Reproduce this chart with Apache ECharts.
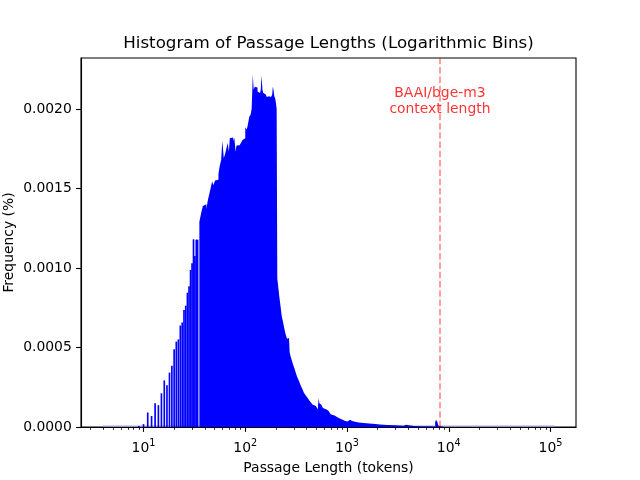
<!DOCTYPE html>
<html><head><meta charset="utf-8">
<script src="https://cdn.jsdelivr.net/npm/echarts@6/dist/echarts.min.js"></script>
<style>html,body{margin:0;padding:0;background:#fff}#c{width:640px;height:480px}</style>
</head><body><div id="c"></div>
<script>
// ---- data ----
const spikeLengths = [9,10,11,12,13,14,15,16,17,18,19,20,21,22,23,24,25,26,27,28,29,30,31,32,33,34];
const spikeFreq = [0.000007,0.000018,0.000091,0.000069,0.000149,0.000137,0.000212,0.000293,0.000262,0.000342,
  0.000385,0.000489,0.000537,0.000551,0.000638,0.000657,0.000736,0.000763,0.000844,0.000885,
  0.000987,0.001030,0.001180,0.001075,0.001178,0.001178];
// continuous part: bin left edges (one extra closing edge) and frequency of each bin
const contEdges = [35.4,37,38.3,40,41.5,43,44.5,46,47.3,48.5,50.5,52.5,54.5,56,58,59.5,61.5,63.5,65.5,67.3,
  69,70.5,73,76,78,80.5,82,85,88,91.5,94,97,100,103.5,106,109.5,113,115.5,117,118.5,
  121,124,128,132,136,139.5,142,144.5,147.5,150.5,155,159,163,167,171,175,179,184,186.5,189.5,
  193,197,201,203.5,206.5,211,216,222,228,235,242,249,257,265,269,273,280,288,296,304,
  314,324,337,350,363,377,392,407,423,440,457,475,495,515,527,535,545,560,580,605,
  630,660,690,720,755,790,830,870,915,960,1010,1070,1120,1200,1300,1450,1650,1900,2100,2500,
  3000,3600,3800,4500,5500,6500,7350,7500,7750,7900,8100,9000];
const contFreq = [0.00129,0.00135,0.00139,0.00140,0.00137,0.00143,0.00147,0.00151,0.001545,0.00152,
  0.00155,0.001555,0.00159,0.00164,0.00168,0.00180,0.00169,0.00172,0.001755,0.001785,
  0.00173,0.001815,0.00182,0.00180,0.001818,0.00173,0.00177,0.001772,0.00178,0.00179,
  0.001805,0.001815,0.001885,0.00187,0.00190,0.00195,0.001965,0.00200,0.00210,0.002214,
  0.00212,0.00214,0.002135,0.00211,0.00210,0.00209,0.00212,0.00221,0.00212,0.00210,
  0.00209,0.002085,0.002075,0.00208,0.00207,0.002075,0.00208,0.00209,0.00214,0.00212,
  0.00208,0.002065,0.00203,0.00200,0.00093,0.00088,0.00082,0.00076,0.00070,0.00066,
  0.00062,0.000585,0.000555,0.000545,0.00056,0.00047,0.00044,0.000415,0.00039,0.00037,
  0.00034,0.000315,0.00029,0.000262,0.00024,0.000215,0.00020,0.000185,0.00017,0.000155,
  0.000142,0.000132,0.00012,0.00011,0.00018,0.00015,0.00014,0.00013,0.00012,0.00011,
  0.00010,0.00009,0.00008,0.000072,0.000064,0.000057,0.00005,0.000044,0.000038,0.000034,
  0.000045,0.000038,0.000033,0.000028,0.000025,0.000022,0.000019,0.000016,0.000013,0.000011,
  0.000008,0.000014,0.000006,0.000005,0.000004,0.000003,0.00003,0.000046,0.00003,0.000008,0.000002];
const tokenRange = [4, 110000];
const contextLength = 8192;
const noteText = 'BAAI/bge-m3\ncontext length';
const noteY = 0.00205;
const yTicks = [0, 0.0005, 0.0010, 0.0015, 0.0020];
const xMajorTicks = [10, 100, 1000, 10000, 100000];

// ---- build ----
const xMin = 2.43, xMax = 1.78e5;
const xMinorTicks = [];
for (let d = 1; d <= 100000; d *= 10) for (let k = 2; k <= 9; k++) { const v = k * d; if (v > xMin && v < xMax) xMinorTicks.push(v); }

const binHalf = Math.pow(10, 0.0082);
const spikeData = spikeLengths.map((n, i) => [n / binHalf, n * binHalf, spikeFreq[i]]);
const contData = contEdges.map((e, i) => [e, i < contFreq.length ? contFreq[i] : 0]);

const FONT = 'DejaVu Sans';
const chart = echarts.init(document.getElementById('c'), null, {renderer: 'canvas'});
chart.setOption({
  animation: false,
  backgroundColor: '#ffffff',
  title: {
    text: 'Histogram of Passage Lengths (Logarithmic Bins)',
    left: 328.5, top: 43.5, padding: 0,
    textAlign: 'center', textVerticalAlign: 'middle',
    textStyle: {fontFamily: FONT, fontSize: 16.7, fontWeight: 'normal', color: '#000', lineHeight: 20}
  },
  grid: {left: 81, right: 64, top: 58, bottom: 53, show: true, borderColor: '#000', borderWidth: 1.1,
    backgroundColor: 'transparent', containLabel: false, outerBoundsMode: 'none'},
  xAxis: [{
    type: 'log', logBase: 10, min: xMin, max: xMax, z: 5,
    axisLine: {show: true, lineStyle: {color: '#000', width: 1.1}},
    axisTick: {show: true, length: 4.9, customValues: xMajorTicks, lineStyle: {color: '#000', width: 1.1}},
    minorTick: {show: false},
    splitLine: {show: false},
    axisLabel: {
      show: true, customValues: xMajorTicks, margin: 11,
      formatter: v => '{n|10}{s|' + Math.round(Math.log10(v)) + '}',
      rich: {
        n: {fontFamily: FONT, fontSize: 13.9, color: '#000', lineHeight: 20},
        s: {fontFamily: FONT, fontSize: 9.7, color: '#000', verticalAlign: 'top', lineHeight: 10}
      }
    },
    name: 'Passage Length (tokens)', nameLocation: 'middle', nameGap: 33, nameMoveOverlap: false,
    nameTextStyle: {fontFamily: FONT, fontSize: 13.9, color: '#000', lineHeight: 16}
  }, {
    type: 'log', logBase: 10, min: xMin, max: xMax, position: 'bottom', z: 5,
    axisLine: {show: false},
    axisTick: {show: true, length: 2.8, customValues: xMinorTicks, lineStyle: {color: '#000', width: 0.85}},
    axisLabel: {show: false},
    splitLine: {show: false}
  }],
  yAxis: {
    type: 'value', min: 0, max: 0.00232, z: 5,
    axisLine: {show: true, lineStyle: {color: '#000', width: 1.1}},
    axisTick: {show: true, length: 4.9, customValues: yTicks, lineStyle: {color: '#000', width: 1.1}},
    splitLine: {show: false},
    axisLabel: {customValues: yTicks, formatter: v => v.toFixed(4), margin: 9.2,
      fontFamily: FONT, fontSize: 13.9, color: '#000'},
    name: 'Frequency (%)', nameLocation: 'middle', nameGap: 64, nameMoveOverlap: false,
    nameTextStyle: {fontFamily: FONT, fontSize: 13.9, color: '#000', lineHeight: 16}
  },
  series: [
    { // faint baseline across the whole binned range
      type: 'custom', xAxisIndex: 0, silent: true, z: 1,
      data: [[tokenRange[0], tokenRange[1]]],
      renderItem: (params, api) => {
        const a = api.coord([api.value(0), 0]);
        const b = api.coord([api.value(1), 0]);
        return {type: 'rect', shape: {x: a[0], y: a[1] - 1.6, width: b[0] - a[0], height: 1}, style: {fill: '#a8a8ff'}};
      }
    },
    { // continuous histogram body
      type: 'line', xAxisIndex: 0, step: 'end', symbol: 'none', silent: true, z: 2,
      data: contData,
      lineStyle: {width: 0, opacity: 0},
      areaStyle: {color: '#0000ff', opacity: 1, origin: 'start'}
    },
    { // isolated integer-length bars
      type: 'custom', xAxisIndex: 0, silent: true, z: 3,
      data: spikeData,
      renderItem: (params, api) => {
        const p0 = api.coord([api.value(0), 0]);
        const p1 = api.coord([api.value(1), api.value(2)]);
        return {type: 'rect', shape: {x: p0[0], y: p1[1], width: p1[0] - p0[0], height: p0[1] - p1[1]}, style: {fill: '#0000ff'}};
      }
    },
    { // context-length marker and note
      type: 'scatter', xAxisIndex: 0, symbolSize: 0, silent: true, z: 4,
      data: [[contextLength, noteY]],
      label: {show: true, position: 'inside', formatter: noteText, color: '#ff0000',
        fontFamily: FONT, fontSize: 13.9, lineHeight: 16, align: 'center', verticalAlign: 'middle'},
      markLine: {
        silent: true, symbol: ['none', 'none'], label: {show: false},
        lineStyle: {color: '#ff0000', opacity: 0.5, width: 1.5, type: [6.5, 2.8]},
        data: [{xAxis: contextLength}]
      }
    }
  ]
});
</script></body></html>
